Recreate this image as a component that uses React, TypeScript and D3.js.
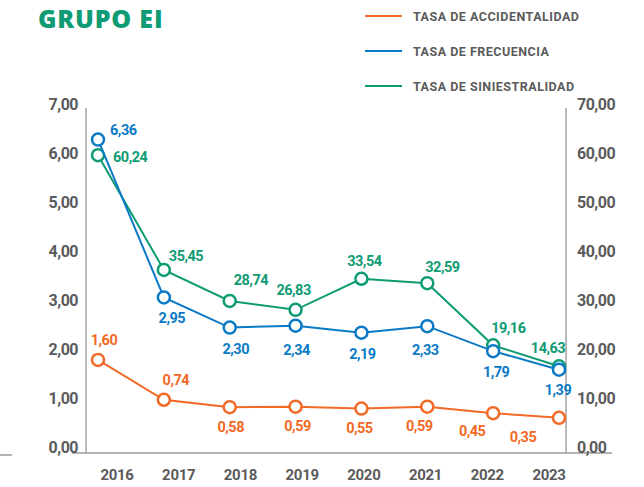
import React from "react";
import * as d3 from "d3";

const years = ["2016", "2017", "2018", "2019", "2020", "2021", "2022", "2023"];
const accidentalidad = [1.6, 0.74, 0.58, 0.59, 0.55, 0.59, 0.45, 0.35];
const frecuencia = [6.36, 2.95, 2.3, 2.34, 2.19, 2.33, 1.79, 1.39];
const siniestralidad = [60.24, 35.45, 28.74, 26.83, 33.54, 32.59, 19.16, 14.63];
const leftTicks = [0, 1, 2, 3, 4, 5, 6, 7];
const rightTicks = [0, 10, 20, 30, 40, 50, 60, 70];

// label offsets (layout, not data): [dx, dy, anchor]
const accOff: [number, number, string][] = [
  [6, -20, "middle"], [12, -20, "middle"], [1, 20, "middle"], [2, 19, "middle"],
  [-2, 19, "middle"], [-8, 19, "middle"], [-21, 18, "middle"], [-36, 19, "middle"],
];
const frecOff: [number, number, string][] = [
  [12, -10, "start"], [8, 20, "middle"], [6, 21, "middle"], [1, 24, "middle"],
  [1, 21, "middle"], [-2, 24, "middle"], [3, 21, "middle"], [-1, 20, "middle"],
];
const sinOff: [number, number, string][] = [
  [15, 2, "start"], [5, -14, "start"], [4, -21, "start"], [-2, -20, "middle"],
  [3, -18, "middle"], [-2, -16, "start"], [-2, -17, "start"], [-11, -18, "middle"],
];

const ORANGE = "#f26a25";
const BLUE = "#0b7ac6";
const GREEN = "#0f9b73";
const GRAY = "#5b5b5b";
const FONT = "Roboto, 'Open Sans', sans-serif";

const fmt = (v: number) => v.toFixed(2).replace(".", ",");

export default function App() {
  const W = 644, H = 487;
  const x = d3.scalePoint<string>().domain(years).range([98, 559]);
  const xLab = d3.scalePoint<string>().domain(years).range([117, 549]);
  const yL = d3.scaleLinear().domain([0, 7]).range([434, 110]);
  const yR = d3.scaleLinear().domain([0, 70]).range([434, 110]);
  const yTickL = d3.scaleLinear().domain([0, 7]).range([447, 104]);
  const yTickR = d3.scaleLinear().domain([0, 70]).range([447, 104]);

  const series = [
    { name: "TASA DE ACCIDENTALIDAD", data: accidentalidad, y: yL, color: ORANGE, off: accOff },
    { name: "TASA DE FRECUENCIA", data: frecuencia, y: yL, color: BLUE, off: frecOff },
    { name: "TASA DE SINIESTRALIDAD", data: siniestralidad, y: yR, color: GREEN, off: sinOff },
  ];
  const drawOrder = [series[2], series[1], series[0]];

  return (
    <svg width={W} height={H} style={{ position: "absolute", left: 0, top: 0, background: "#fff" }}
      fontFamily={FONT}>
      <rect width={W} height={H} fill="#fff" />
      <text x={38} y={28} fontSize={25} fontWeight={800} fill={GREEN} letterSpacing={0.8}
        fontFamily="'Open Sans', sans-serif">GRUPO EI</text>

      {series.map((s, i) => (
        <g key={s.name} transform={`translate(0,${16 + i * 35})`}>
          <line x1={365} x2={402} y1={0} y2={0} stroke={s.color} strokeWidth={2} />
          <text x={413} y={4.5} fontSize={12.5} fontWeight={700} fill={GRAY} letterSpacing={0.5}>{s.name}</text>
        </g>
      ))}

      {/* axes */}
      <line x1={86} x2={86} y1={108} y2={453} stroke="#8a8a8a" strokeWidth={1.2} />
      <line x1={566} x2={566} y1={108} y2={453} stroke="#8a8a8a" strokeWidth={1.2} />
      <line x1={72} x2={612} y1={453} y2={453} stroke="#9a9a9a" strokeWidth={1.5} />
      <line x1={0} x2={12} y1={455} y2={455} stroke="#9a9a9a" strokeWidth={1.5} />

      {leftTicks.map((t) => (
        <text key={t} x={78} y={yTickL(t)} dy="0.35em" textAnchor="end" fontSize={16} fontWeight={700}
          fill={GRAY} letterSpacing={-0.5}>{fmt(t)}</text>
      ))}
      {rightTicks.map((t) => (
        <text key={t} x={577} y={yTickR(t)} dy="0.35em" textAnchor="start" fontSize={16} fontWeight={700}
          fill={GRAY} letterSpacing={-0.5}>{fmt(t)}</text>
      ))}
      {years.map((yr) => (
        <text key={yr} x={xLab(yr)} y={475} dy="0.35em" textAnchor="middle" fontSize={15} fontWeight={700}
          fill={GRAY} letterSpacing={-0.3}>{yr}</text>
      ))}

      {drawOrder.map((s) => {
        const line = d3.line<number>().x((_, i) => x(years[i])!).y((v) => s.y(v));
        return (
          <g key={s.name}>
            <path d={line(s.data) || ""} fill="none" stroke={s.color} strokeWidth={2} />
            {s.data.map((v, i) => (
              <circle key={i} cx={x(years[i])} cy={s.y(v)} r={6} fill="#fff" stroke={s.color} strokeWidth={2.5} />
            ))}
          </g>
        );
      })}
      {drawOrder.map((s) => (
        <g key={s.name + "lab"}>
          {s.data.map((v, i) => (
            <text key={i} x={x(years[i])! + s.off[i][0]} y={s.y(v) + s.off[i][1]} dy="0.35em"
              textAnchor={s.off[i][2] as any} fontSize={14.5} fontWeight={700} fill={s.color}
              letterSpacing={-0.5}>{fmt(v)}</text>
          ))}
        </g>
      ))}
    </svg>
  );
}
